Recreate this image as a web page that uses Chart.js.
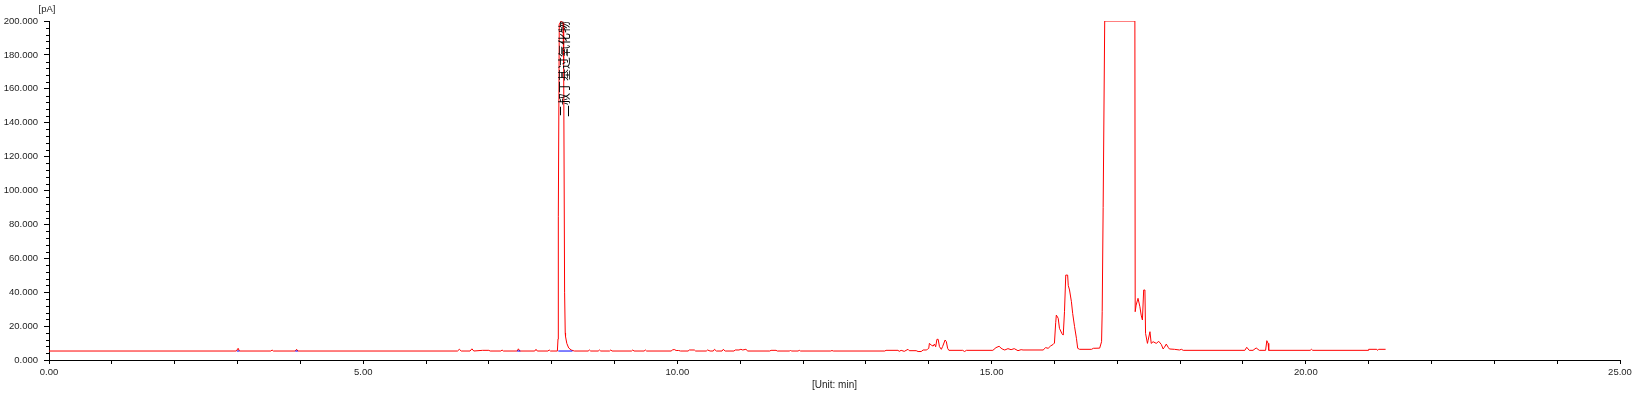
<!DOCTYPE html>
<html>
<head>
<meta charset="utf-8">
<script src="https://cdn.jsdelivr.net/npm/chart.js@4"></script>
<style>
  html, body { margin: 0; padding: 0; background: #fff; }
  #wrap { width: 1636px; height: 395px; }
</style>
</head>
<body>
<div id="wrap"><canvas id="c" width="1636" height="395"></canvas></div>
<script>
// ---- data ----
const retentionTimes = [
  0.00, 2.98, 3.01, 3.03, 3.53, 3.55, 3.57, 3.92, 3.94, 3.96,
  6.50, 6.53, 6.56, 6.70, 6.73, 6.76, 6.90, 7.00, 7.02, 7.19, 7.21, 7.23,
  7.45, 7.47, 7.49, 7.73, 7.75, 7.77, 7.94, 7.96, 7.98,
  8.09, 8.10, 8.105, 8.12, 8.15, 8.18, 8.19, 8.205, 8.215, 8.22, 8.24, 8.27, 8.31, 8.36,
  8.58, 8.60, 8.62, 8.74, 8.76, 8.78, 8.92, 8.94, 8.96, 9.27, 9.29, 9.31, 9.47, 9.49, 9.51,
  9.90, 9.92, 9.95, 9.98, 10.02, 10.05, 10.17, 10.19, 10.27, 10.29,
  10.46, 10.48, 10.52, 10.57, 10.59, 10.62, 10.71, 10.73, 10.76,
  10.90, 10.92, 10.98, 11.01, 11.04, 11.09, 11.12, 11.47, 11.49, 11.57, 11.59,
  11.78, 11.80, 11.82, 11.92, 11.94, 11.96, 12.44, 12.46, 12.48,
  13.30, 13.32, 13.51, 13.53, 13.56, 13.61, 13.67, 13.69, 13.80, 13.83, 13.88, 13.91, 13.96, 13.98,
  14.00, 14.01, 14.04, 14.07, 14.09, 14.11, 14.13, 14.15, 14.17, 14.20, 14.22, 14.26, 14.28, 14.30, 14.32,
  14.54, 14.57, 14.60, 15.02, 15.07, 15.12, 15.15, 15.18, 15.21, 15.26, 15.31, 15.36, 15.42, 15.47, 15.50,
  15.82, 15.86, 15.90, 15.94, 15.98, 16.00, 16.02, 16.03, 16.06, 16.08, 16.12, 16.14, 16.16, 16.18,
  16.21, 16.22, 16.24, 16.27, 16.29, 16.32, 16.35, 16.37, 16.40, 16.59, 16.62, 16.72, 16.75, 16.76,
  16.775, 16.785, 16.80, 17.28, 17.285, 17.30, 17.33, 17.36, 17.38, 17.40, 17.42, 17.44, 17.45,
  17.48, 17.49, 17.52, 17.54, 17.57, 17.62, 17.66, 17.70, 17.73, 17.75, 17.78, 17.81, 17.83, 17.91,
  17.99, 18.02, 18.05, 19.03, 19.06, 19.10, 19.16, 19.21, 19.26, 19.36, 19.38, 19.40, 19.41,
  20.07, 20.09, 20.11, 20.99, 21.00, 21.13, 21.14, 21.16, 21.27
];
const signalPA = [
  5.3, 5.3, 6.9, 5.3, 5.3, 5.9, 5.3, 5.3, 6.3, 5.3,
  5.3, 6.3, 5.3, 5.3, 6.6, 5.3, 5.7, 5.7, 5.3, 5.3, 5.9, 5.3,
  5.3, 6.6, 5.3, 5.3, 6.3, 5.3, 5.3, 5.9, 5.3,
  5.3, 12.4, 84.5, 198, 200, 199, 175, 40, 16.0, 13.8, 9.8, 7.1, 5.9, 5.3,
  5.3, 5.9, 5.3, 5.3, 5.9, 5.3, 5.3, 5.9, 5.3, 5.3, 5.9, 5.3, 5.3, 5.9, 5.3,
  5.3, 5.9, 6.2, 5.6, 5.6, 5.3, 5.3, 5.9, 5.9, 5.3,
  5.3, 5.9, 5.3, 5.3, 6.3, 5.3, 5.3, 6.3, 5.3,
  5.3, 5.9, 5.9, 6.3, 5.9, 6.3, 5.3, 5.3, 5.7, 5.7, 5.3,
  5.3, 5.6, 5.3, 5.3, 5.7, 5.3, 5.3, 5.6, 5.3,
  5.3, 5.7, 5.7, 5.1, 5.7, 5.1, 6.3, 5.5, 5.5, 5.0, 5.0, 5.9, 5.9, 6.3,
  6.9, 9.8, 8.8, 8.2, 9.4, 7.8, 12.2, 12.2, 7.9, 6.3, 7.9, 11.8, 10.8, 6.9, 5.7,
  5.7, 5.0, 5.7, 5.7, 7.3, 8.1, 7.0, 6.3, 5.9, 6.7, 6.1, 6.7, 5.5, 6.1, 5.9,
  5.9, 7.3, 6.9, 8.3, 9.2, 10.0, 22.0, 26.5, 24.6, 18.7, 15.5, 14.7, 28.5, 50.1,
  50.1, 44.0, 41.3, 34.4, 27.5, 19.7, 12.8, 6.9, 6.3, 6.3, 6.9, 7.0, 10.8, 28.5,
  90, 90, 200, 200, 28.5, 32.4, 36.4, 31.4, 26.5, 23.6, 41.3, 41.3, 15.7,
  9.8, 11.5, 16.7, 9.8, 10.8, 9.8, 11.0, 9.2, 6.5, 7.5, 9.4, 7.5, 6.5, 6.3,
  5.9, 6.3, 5.7, 5.7, 7.5, 5.7, 5.7, 7.1, 5.7, 5.7, 11.4, 9.8, 5.7,
  5.7, 6.3, 5.7, 5.7, 6.3, 6.3, 5.7, 6.3, 6.3
];
// integration baselines (blue); null separates segments
const baselineTimes = [2.99, 3.03, null, 3.92, 3.96, null, 7.45, 7.50, null, 8.105, 8.33];
const baselinePA    = [5.3, 5.3, null, 5.3, 5.3, null, 5.3, 5.3, null, 5.3, 5.3];

const peakNames = ['二叔丁基过氧化物'];
const peakTimes = [8.15];
const peakTops  = [200];

const yUnitLabel = '[pA]';
const xUnitLabel = '[Unit: min]';
const yMin = 0, yMax = 200, yMajorStep = 20, yMinorStep = 4;
const xMin = 0, xMax = 25, xTickStep = 1, xLabelEvery = 5;

// ---- build datasets ----
const traceData = retentionTimes.map((t, i) => ({ x: t, y: signalPA[i] }));
const baseData = baselineTimes.map((t, i) => (t === null ? { x: NaN, y: null } : { x: t, y: baselinePA[i] }));

const FONT = "'Liberation Sans', Arial, sans-serif";
const TXT = '#1e1e1e';

const decorPlugin = {
  id: 'decor',
  afterDraw(chart) {
    const ctx = chart.ctx;
    const xs = chart.scales.x, ys = chart.scales.y;
    ctx.save();
    // minor y ticks
    ctx.strokeStyle = '#000';
    ctx.lineWidth = 1;
    ctx.beginPath();
    for (let v = yMin; v <= yMax + 1e-9; v += yMinorStep) {
      if (Math.abs(v % yMajorStep) < 1e-9) continue;
      const py = Math.round(ys.getPixelForValue(v)) + 0.5;
      ctx.moveTo(xs.left - 3, py);
      ctx.lineTo(xs.left, py);
    }
    ctx.stroke();
    // y unit label
    ctx.fillStyle = TXT;
    ctx.font = '9.5px ' + FONT;
    ctx.textAlign = 'center';
    ctx.textBaseline = 'middle';
    ctx.fillText(yUnitLabel, ys.right - 2, 9);
    // peak names (rotated)
    ctx.fillStyle = '#000';
    ctx.font = "12px 'Noto Sans CJK SC', sans-serif";
    peakNames.forEach((name, i) => {
      const px = xs.getPixelForValue(peakTimes[i]) + 3;
      const py = ys.getPixelForValue(peakTops[i]);
      ctx.save();
      ctx.translate(px, py);
      ctx.rotate(-Math.PI / 2);
      ctx.textAlign = 'right';
      ctx.textBaseline = 'middle';
      ctx.fillText(name, 0, 0);
      ctx.restore();
    });
    ctx.restore();
  }
};

new Chart(document.getElementById('c'), {
  type: 'line',
  data: {
    datasets: [
      {
        data: baseData, borderColor: '#0000ff', borderWidth: 1, pointRadius: 0,
        spanGaps: false, tension: 0, fill: false
      },
      {
        data: traceData, borderColor: '#ff0000', borderWidth: 1, pointRadius: 0,
        tension: 0, fill: false
      }
    ]
  },
  options: {
    responsive: false,
    animation: false,
    devicePixelRatio: 1,
    layout: { padding: { top: 21, right: 16, left: 0, bottom: 0 } },
    plugins: { legend: { display: false }, tooltip: { enabled: false } },
    scales: {
      x: {
        type: 'linear', min: xMin, max: xMax,
        afterFit(s) { s.height = 35; },
        border: { color: '#000', width: 1 },
        grid: { drawOnChartArea: false, drawTicks: true, tickLength: 4, color: '#000' },
        ticks: {
          stepSize: xTickStep, autoSkip: false, maxRotation: 0, padding: 3,
          color: TXT, font: { family: FONT, size: 9.5 },
          callback: v => (Math.abs(v % xLabelEvery) < 1e-9 ? Number(v).toFixed(2) : '')
        },
        title: {
          display: true, text: xUnitLabel, color: TXT,
          font: { family: FONT, size: 10 }, padding: { top: 0, bottom: 4 }
        }
      },
      y: {
        type: 'linear', min: yMin, max: yMax,
        afterFit(s) { s.width = 49; },
        border: { color: '#000', width: 1 },
        grid: { drawOnChartArea: false, drawTicks: true, tickLength: 5, color: '#000' },
        ticks: {
          stepSize: yMajorStep, autoSkip: false, padding: 6,
          color: TXT, font: { family: FONT, size: 9.5 },
          callback: v => Number(v).toFixed(3)
        }
      }
    }
  },
  plugins: [decorPlugin]
});
</script>
</body>
</html>
